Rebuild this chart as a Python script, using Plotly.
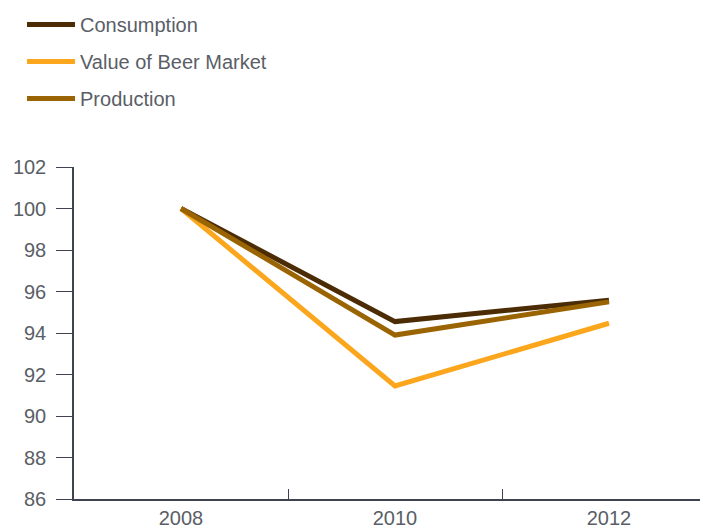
import plotly.graph_objects as go

years = ["2008", "2010", "2012"]
consumption = [100, 94.55, 95.58]
value_beer = [100, 91.45, 94.47]
production = [100, 93.9, 95.5]

names = ["Consumption", "Value of Beer Market", "Production"]
colors = ["#4b2c05", "#fba61c", "#9a6402"]
series = [consumption, value_beer, production]

fig = go.Figure()
for i, (n, c, s) in enumerate(zip(names, colors, series)):
    fig.add_trace(go.Scatter(x=years, y=s, name=n, mode="lines",
                             line=dict(color=c, width=5),
                             legendgroup=str(i)))

font = dict(family="Liberation Sans, Arial, sans-serif", size=20, color="#5a5e66")
fig.update_layout(
    width=708, height=526,
    margin=dict(l=66, r=0, t=159, b=35, autoexpand=False),
    paper_bgcolor="white", plot_bgcolor="white",
    font=font,
    showlegend=True,
    legend=dict(xref="container", yref="paper", x=0.0198, y=1.488,
                xanchor="left", yanchor="top", tracegroupgap=8,
                font=font, bgcolor="rgba(0,0,0,0)", itemwidth=48),
    xaxis=dict(type="category", range=[-0.5, 2.5], showline=True,
               linecolor="#3d4350", linewidth=1.5, ticks="inside",
               tickson="boundaries", ticklen=10, tickcolor="#3d4350",
               showgrid=False, zeroline=False, tickfont=font),
    yaxis=dict(range=[86, 102], dtick=2, tick0=86, showline=True,
               linecolor="#3d4350", linewidth=1.5, ticks="outside",
               ticklen=16, tickcolor="#3d4350", showgrid=False,
               zeroline=False, tickfont=font, ticklabelstandoff=6),
)
fig.write_html("out.html")
